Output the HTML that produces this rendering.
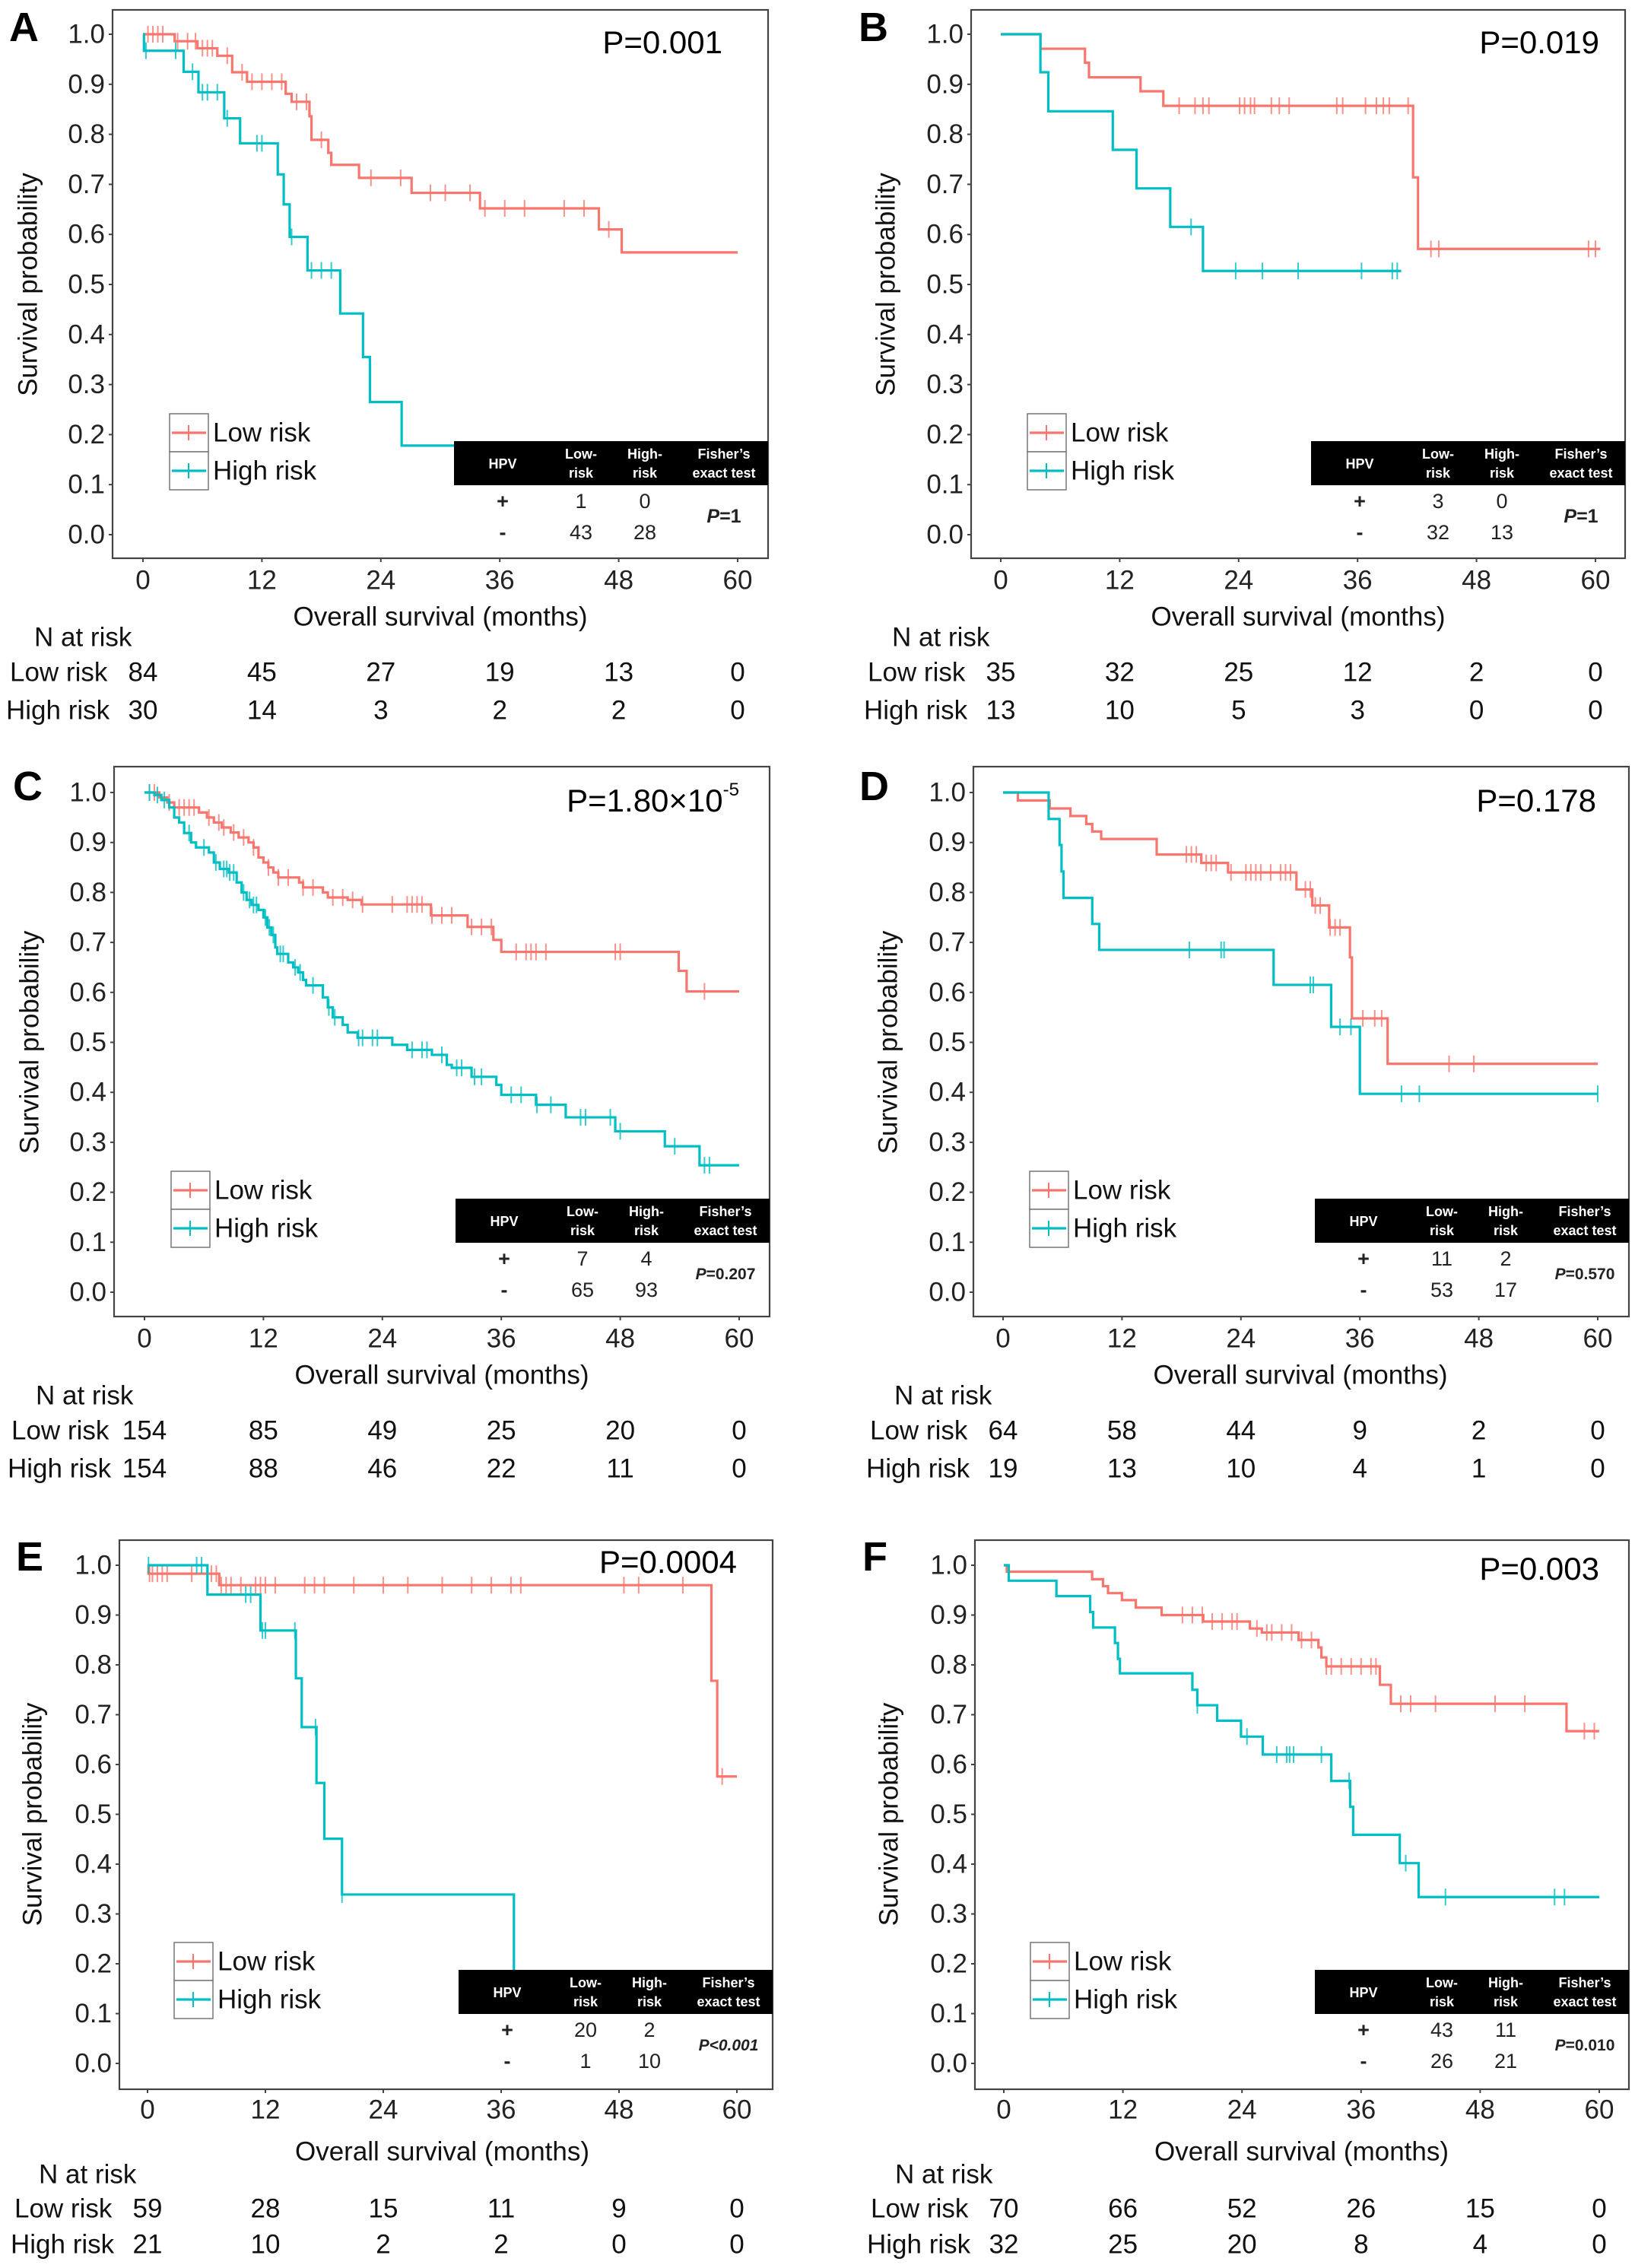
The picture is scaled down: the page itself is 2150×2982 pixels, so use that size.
<!DOCTYPE html>
<html><head><meta charset="utf-8"><style>
html,body{margin:0;padding:0;background:#fff}
svg{display:block;font-family:"Liberation Sans",Arial,sans-serif}
</style></head><body>
<svg id="fig" width="2150" height="2982" viewBox="0 0 2150 2982" xmlns="http://www.w3.org/2000/svg"></svg>
<script>
// ---- data (months, survival) ----
const aLowT=[3.2,5.5,7.5,9,10.5,14.4,15,16.8,17,18.7,19,21.8,27.1,34,46,48.3];
const aLowS=[0.986,0.972,0.957,0.924,0.905,0.881,0.865,0.836,0.789,0.763,0.739,0.713,0.683,0.652,0.61,0.564];
const aLowC=[0.5,1,1.5,2,3.5,4.5,5.3,6,6.5,7,8.5,10,11,12,13,14,15.5,16.5,18,23,26,29,30.5,33,34.5,36.5,38.5,42.5,44.5,47];
const aHighT=[0.1,4.1,5.6,8.2,9.8,13.6,14.2,14.8,16.6,19.9,22.2,22.9,26.1];
const aHighS=[0.967,0.925,0.884,0.832,0.782,0.72,0.66,0.595,0.528,0.442,0.355,0.265,0.178];
const aHighC=[0.3,3.3,5,6,6.5,7.5,8.5,11.5,12,15,17,18,19];
const aHighEnd=31.4;

const bLowT=[4,8.5,8.9,14.1,16.4,41.6,42.1];
const bLowS=[0.971,0.943,0.914,0.886,0.857,0.714,0.571];
const bLowC=[18,19.6,20.4,21,24.1,24.6,25.2,25.6,27.3,28.1,29.1,33.9,34.5,36.8,37.9,38.6,39.2,41.1,43.4,44.2,59.3,60];
const bHighT=[4,4.8,11.3,13.7,17.1,20.4];
const bHighS=[0.924,0.846,0.769,0.692,0.615,0.527];
const bHighC=[19.2,23.7,26.4,30,36.4,39.5,40];
const bHighEnd=40.4;

const cLowT=[1.5,2.3,3,5.5,6.3,7,7.8,8.7,9.5,10.5,11,11.5,12,12.5,13,13.5,15.6,16,18,18.5,20.5,21.9,28.9,32.6,35.2,36,53.9,54.7];
const cLowS=[0.99,0.98,0.97,0.96,0.95,0.94,0.93,0.92,0.91,0.9,0.89,0.87,0.86,0.85,0.84,0.83,0.82,0.81,0.8,0.79,0.785,0.776,0.754,0.731,0.705,0.681,0.643,0.602];
const cLowC=[0.5,1,2.5,3.5,4,4.5,5,6.5,7.5,8,9,10,11,12.5,13.5,14.5,16,17,19,20,21,22,25,26.5,27,27.5,28,29,30,31,33,34,35,37.5,38.5,39,39.5,40.5,47.5,48,56.5];
const cHighT=[1,1.7,2.5,3,3.5,4,4.7,5.2,6.5,7,7.6,8.5,9.3,9.8,10.3,10.8,11.5,12,12.4,12.8,13.2,13.4,14.5,15,15.5,16,16.3,18,18.5,19,20,20.5,21.5,25,26.5,29,30.5,31,33,35.5,36,39.5,42.5,47.5,52.5,56];
const cHighS=[0.995,0.985,0.97,0.95,0.94,0.919,0.9,0.89,0.88,0.86,0.847,0.84,0.82,0.8,0.785,0.775,0.765,0.75,0.73,0.715,0.69,0.677,0.66,0.65,0.64,0.625,0.614,0.59,0.57,0.55,0.535,0.52,0.509,0.495,0.485,0.475,0.455,0.449,0.431,0.415,0.395,0.375,0.35,0.322,0.292,0.254];
const cHighC=[0.5,1.3,2,4.5,6,7.2,8,8.3,8.6,9,10,10.6,11,11.3,12.2,12.6,13,13.7,14,15.2,15.7,17,18.6,19.2,21.6,22,23,23.5,27,28,28.5,30,31.5,32,33.3,34,37,38,39.6,41,44,44.5,47,48,53.5,56.5,57];

const dLowT=[1.5,4.7,6.8,8.4,9,9.9,15.5,20,22.7,29.6,31.2,32.9,35,35.2,38.8];
const dLowS=[0.984,0.968,0.953,0.937,0.922,0.907,0.876,0.859,0.84,0.806,0.774,0.73,0.67,0.548,0.457];
const dLowC=[18.5,19,19.5,20.5,21,21.5,23,24.5,25,25.5,26,27,28,28.5,29,30.5,31,31.5,32,33,33.5,34,36.3,37.5,38.2,45,47.5];
const dHighT=[4.6,5.7,5.9,6.1,9,9.7,27.3,33.1,36];
const dHighS=[0.947,0.895,0.842,0.789,0.737,0.685,0.615,0.531,0.397];
const dHighC=[18.8,22,22.3,31,31.3,34,35.1,40.2,42,60];

const eLowT=[0.1,7.3,57.4,58];
const eLowS=[0.983,0.96,0.768,0.576];
const eLowC=[0.2,0.5,1,1.5,2,4.5,6.5,7,7.5,8,8.5,9.5,11,11.5,12,13,16,17,18,21,24,26.5,30,33,35,37,38,48.5,50,54.5,58.5];
const eHighT=[6.1,11.5,15.1,15.7,17.2,18,19.8,37.3];
const eHighS=[0.941,0.869,0.773,0.675,0.563,0.451,0.339,0.169];
const eHighC=[0.1,5,5.5,10,10.5,11.7,12,15,17.1,19.8];

const fLowT=[0.3,8.9,10,10.5,11.9,13.3,15.9,20.1,24.8,26,29.7,31.7,32,32.5,37.9,39,56.7];
const fLowS=[0.987,0.972,0.958,0.944,0.93,0.915,0.9,0.887,0.873,0.865,0.85,0.835,0.815,0.797,0.76,0.722,0.667];
const fLowC=[18,19,20,21,22,23,23.5,25.5,26.5,27,28,29,30,31,32.5,33,34,35,36,37,37.5,40,41,43.5,49.5,52.5,58.5,59.5];
const fHighT=[0.5,5.3,8.7,9,11.2,11.5,11.7,19,19.5,21.5,23.9,26.1,33,34.9,35.2,39.9,41.8];
const fHighS=[0.969,0.938,0.906,0.875,0.844,0.812,0.783,0.75,0.719,0.688,0.656,0.62,0.567,0.515,0.459,0.402,0.334];
const fHighC=[19.5,24.5,27.5,28.5,28.8,29.2,32,34.8,40.5,44.5,55.5,56.5];

const xTicks=[0,12,24,36,48,60];
const yTicks=[0,0.1,0.2,0.3,0.4,0.5,0.6,0.7,0.8,0.9,1.0];
const aRiskLow=[84,45,27,19,13,0], aRiskHigh=[30,14,3,2,2,0];
const bRiskLow=[35,32,25,12,2,0], bRiskHigh=[13,10,5,3,0,0];
const cRiskLow=[154,85,49,25,20,0], cRiskHigh=[154,88,46,22,11,0];
const dRiskLow=[64,58,44,9,2,0], dRiskHigh=[19,13,10,4,1,0];
const eRiskLow=[59,28,15,11,9,0], eRiskHigh=[21,10,2,2,0,0];
const fRiskLow=[70,66,52,26,15,0], fRiskHigh=[32,25,20,8,4,0];
const aHpv=[1,0,43,28], bHpv=[3,0,32,13], cHpv=[7,4,65,93], dHpv=[11,2,53,17], eHpv=[20,2,1,10], fHpv=[43,11,26,21];

const RED='#F8766D', CYAN='#00BFC4';
const NS='http://www.w3.org/2000/svg';
const svg=document.getElementById('fig');
function mk(tag,attrs,parent){const e=document.createElementNS(NS,tag);for(const k in attrs)e.setAttribute(k,attrs[k]);(parent||svg).appendChild(e);return e;}
function txt(s,x,y,size,anchor,parent,extra){const t=mk('text',Object.assign({x:x,y:y,'font-size':size,'text-anchor':anchor||'middle','dominant-baseline':'central',fill:'#111'},extra||{}),parent);t.textContent=s;return t;}

const panels=[
 {id:'a',L:'A',bx:[148,13,1010,734],x0:188,x60:970,y1:45,y0:703,lx:12,ly:36,px:950,py:55,p:'P=0.001',off:[25,77,104,150,200],lt:aLowT,ls:aLowS,lc:aLowC,ht:aHighT,hs:aHighS,hc:aHighC,hend:aHighEnd,rl:aRiskLow,rh:aRiskHigh,hpv:aHpv,fp:'1',fps:25},
 {id:'b',L:'B',bx:[1277,13,2137,734],x0:1316,x60:2098,y1:45,y0:703,lx:1129,ly:36,px:2103,py:55,p:'P=0.019',off:[25,77,104,150,200],lt:bLowT,ls:bLowS,lc:bLowC,ht:bHighT,hs:bHighS,hc:bHighC,hend:bHighEnd,lend:60.5,rl:bRiskLow,rh:bRiskHigh,hpv:bHpv,fp:'1',fps:25},
 {id:'c',L:'C',bx:[150,1008,1012,1731],x0:190,x60:972,y1:1042,y0:1699,lx:17,ly:1034,px:972,py:1052,p:'P=1.80×10',sup:'-5',off:[25,77,104,150,200],lt:cLowT,ls:cLowS,lc:cLowC,ht:cHighT,hs:cHighS,hc:cHighC,rl:cRiskLow,rh:cRiskHigh,hpv:cHpv,fp:'0.207',fps:21},
 {id:'d',L:'D',bx:[1280,1008,2142,1731],x0:1319,x60:2101,y1:1042,y0:1699,lx:1130,ly:1034,px:2099,py:1052,p:'P=0.178',off:[25,77,104,150,200],lt:dLowT,ls:dLowS,lc:dLowC,ht:dHighT,hs:dHighS,hc:dHighC,rl:dRiskLow,rh:dRiskHigh,hpv:dHpv,fp:'0.570',fps:21},
 {id:'e',L:'E',bx:[157,2025,1016,2747],x0:194,x60:969,y1:2058,y0:2713,lx:21,ly:2047,px:969,py:2053,p:'P=0.0004',off:[23,82,112,157,204],lt:eLowT,ls:eLowS,lc:eLowC,ht:eHighT,hs:eHighS,hc:eHighC,rl:eRiskLow,rh:eRiskHigh,hpv:eHpv,fp:'<0.001',fps:21,fpi:true},
 {id:'f',L:'F',bx:[1282,2025,2142,2747],x0:1320,x60:2103,y1:2058,y0:2713,lx:1134,ly:2047,px:2103,py:2062,p:'P=0.003',off:[23,82,112,157,204],lt:fLowT,ls:fLowS,lc:fLowC,ht:fHighT,hs:fHighS,hc:fHighC,rl:fRiskLow,rh:fRiskHigh,hpv:fHpv,fp:'0.010',fps:21}
];

function stepAt(T,S,t){let s=1;for(let i=0;i<T.length;i++){if(T[i]<=t)s=S[i];}return s;}

panels.forEach(P=>{
 const g=mk('g',{});
 
 
 const X=t=>P.x0+(P.x60-P.x0)*t/60;
 const Y=s=>P.y0-(P.y0-P.y1)*s;
 const [L,T,R,B]=P.bx;
 const lt=txt(P.L,P.lx,P.ly,54,'start',g,{'font-weight':'bold',fill:'#000'});
 
 
 const box=mk('rect',{x:L,y:T,width:R-L,height:B-T,fill:'none',stroke:'#444','stroke-width':2.2},g);
 
 
 yTicks.forEach(v=>{
  mk('line',{x1:L-5,x2:L,y1:Y(v),y2:Y(v),stroke:'#444','stroke-width':2},g);
  const t=txt(v.toFixed(1),L-10,Y(v),35,'end',g,{fill:'#222'});
  
  
 });
 xTicks.forEach((v,i)=>{
  mk('line',{x1:X(v),x2:X(v),y1:B,y2:B+5,stroke:'#444','stroke-width':2},g);
  const t=txt(String(v),X(v),B+P.off[0]+4,35,'middle',g,{fill:'#222'});
  
  
  const r1=txt(String(P.rl[i]),X(v),B+P.off[3],35,'middle',g);
  
  
  const r2=txt(String(P.rh[i]),X(v),B+P.off[4],35,'middle',g);
  
  
 });
 const yt=txt('Survival probability',0,0,35,'middle',g,{transform:'translate('+(P.x0-151)+','+((P.y0+P.y1)/2)+') rotate(-90)'});
 
 
 const xt=txt('Overall survival (months)',(P.x0+P.x60)/2,B+P.off[1],35,'middle',g);
 
 
 const nr=txt('N at risk',P.x0-143,B+P.off[2],35,'start',g);
 
 
 const ll=txt('Low risk',P.x0-175,B+P.off[3],35,'start',g);
 
 
 const hl=txt('High risk',P.x0-180,B+P.off[4],35,'start',g);
 
 
 function curve(Ts,Ss,Cs,end,color,name){
  let d='M'+X(0)+','+Y(1);
  Ts.forEach((t,i)=>{d+=' H'+X(t)+' V'+Y(Ss[i]);});
  d+=' H'+X(end);
  const p=mk('path',{d:d,fill:'none',stroke:color,'stroke-width':3.2},g);
  
  
  Cs.forEach(c=>{
   const cm=mk('line',{x1:X(c),x2:X(c),y1:Y(stepAt(Ts,Ss,c))-11,y2:Y(stepAt(Ts,Ss,c))+11,stroke:color,'stroke-width':2,opacity:0.8},g);
   
   
  });
 }
 curve(P.lt,P.ls,P.lc,P.lend||60,RED,'low-risk');
 curve(P.ht,P.hs,P.hc,P.hend||60,CYAN,'high-risk');
 const lg=mk('g',{},g);
 
 
 mk('rect',{x:P.x0+35,y:P.y0-159,width:51,height:50,fill:'#fff',stroke:'#777','stroke-width':1.5},lg);
 mk('rect',{x:P.x0+35,y:P.y0-109,width:51,height:50,fill:'#fff',stroke:'#777','stroke-width':1.5},lg);
 [[RED,'Low risk',P.y0-134],[CYAN,'High risk',P.y0-84]].forEach(r=>{
  mk('line',{x1:P.x0+38,x2:P.x0+83,y1:r[2],y2:r[2],stroke:r[0],'stroke-width':3.2},lg);
  mk('line',{x1:P.x0+60,x2:P.x0+60,y1:r[2]-10,y2:r[2]+10,stroke:r[0],'stroke-width':2},lg);
  const t=txt(r[1],P.x0+92,r[2],35,'start',lg);
  
  
 });
 const tb=mk('g',{},g);
 
 
 mk('rect',{x:R-413,y:P.y0-123,width:413,height:58,fill:'#000'},tb);
 const cx=[R-349,R-246,R-162,R-58];
 const hw={'font-weight':'bold',fill:'#fff'};
 txt('HPV',cx[0],P.y0-93,18,'middle',tb,hw);
 txt('Low-',cx[1],P.y0-106,18,'middle',tb,hw);txt('risk',cx[1],P.y0-81,18,'middle',tb,hw);
 txt('High-',cx[2],P.y0-106,18,'middle',tb,hw);txt('risk',cx[2],P.y0-81,18,'middle',tb,hw);
 txt('Fisher\u2019s',cx[3],P.y0-106,18,'middle',tb,hw);txt('exact test',cx[3],P.y0-81,18,'middle',tb,hw);
 txt('+',cx[0],P.y0-44,27,'middle',tb,{'font-weight':'bold',fill:'#222'});
 txt('-',cx[0],P.y0-3,27,'middle',tb,{'font-weight':'bold',fill:'#222'});
 txt(String(P.hpv[0]),cx[1],P.y0-44,27,'middle',tb,{fill:'#222'});
 txt(String(P.hpv[1]),cx[2],P.y0-44,27,'middle',tb,{fill:'#222'});
 txt(String(P.hpv[2]),cx[1],P.y0-3,27,'middle',tb,{fill:'#222'});
 txt(String(P.hpv[3]),cx[2],P.y0-3,27,'middle',tb,{fill:'#222'});
 const pt=mk('text',{x:cx[3],y:P.y0-24,'font-size':P.fps,'text-anchor':'middle','dominant-baseline':'central',fill:'#222','font-weight':'bold'},tb);
 
 
 const ts1=mk('tspan',{'font-style':'italic'},pt);ts1.textContent='P';
 const ts2=mk('tspan',{'font-style':P.fpi?'italic':'normal'},pt);ts2.textContent=P.fpi?P.fp:'='+P.fp;
 const pv=mk('text',{x:P.px,y:P.py,'font-size':42,'text-anchor':'end','dominant-baseline':'central',fill:'#000'},g);
 
 
 const s1=mk('tspan',{},pv);s1.textContent=P.p;
 if(P.sup){const s2=mk('tspan',{'font-size':24,dy:-14},pv);s2.textContent=P.sup;}
});
</script>
</body></html>
